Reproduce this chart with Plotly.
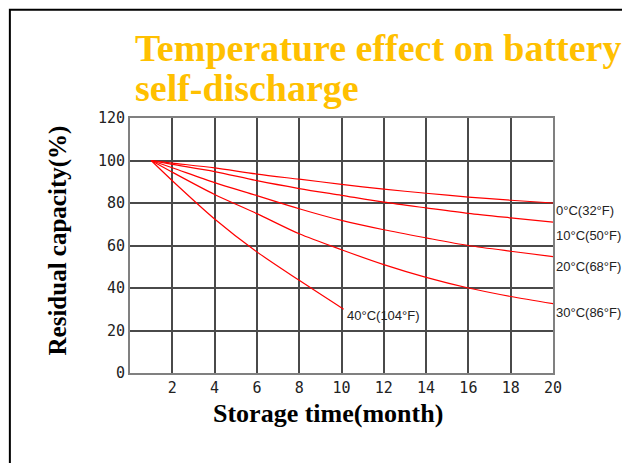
import plotly.graph_objects as go

# ---- data ----
months = [1, 2, 4, 6, 8, 10, 12, 14, 16, 18, 20]
cap_0c = [100, 98.8, 96.5, 93.6, 91.2, 88.8, 86.5, 84.6, 82.8, 81.3, 80]
cap_10c = [100, 98.2, 94.8, 90.5, 86.8, 83.6, 80.4, 77.7, 75.1, 73.0, 71.0]
cap_20c = [100, 96.6, 89.6, 83.5, 77.3, 71.8, 67.4, 63.6, 60.0, 57.3, 54.8]
cap_30c = [100, 94.5, 84.0, 75.0, 65.5, 58.0, 51.0, 45.0, 40.0, 36.0, 32.6]
months_40c = [1, 2, 4, 6, 8, 10.1]
cap_40c = [100, 90.5, 72.5, 57.0, 43.6, 30.0]

series_labels = ["0°C(32°F)", "10°C(50°F)", "20°C(68°F)", "30°C(86°F)", "40°C(104°F)"]
label_x = [20, 20, 20, 20, 10.1]
label_y = [76.6, 64.8, 50.2, 28.4, 27.2]

x_ticks = [2, 4, 6, 8, 10, 12, 14, 16, 18, 20]
y_ticks = [0, 20, 40, 60, 80, 100, 120]

title_line1 = "Temperature effect on battery"
title_line2 = "self-discharge"
x_title = "Storage time(month)"
y_title = "Residual capacity(%)"

RED = "#ff0000"
TICKFONT = dict(family="DejaVu Sans Mono, monospace", size=15, color="#222222")
LABELFONT = dict(family="Liberation Sans, Arial, sans-serif", size=13, color="#222222")
SERIF = "Liberation Serif, Times New Roman, serif"

fig = go.Figure()
for xs, ys in [(months, cap_0c), (months, cap_10c), (months, cap_20c),
               (months, cap_30c), (months_40c, cap_40c)]:
    fig.add_trace(go.Scatter(x=xs, y=ys, mode="lines",
                             line=dict(color=RED, width=1.2, shape="spline", smoothing=0.8),
                             showlegend=False, hoverinfo="skip"))

for txt, lx, ly in zip(series_labels, label_x, label_y):
    fig.add_annotation(x=lx, y=ly, xref="x", yref="y", text=txt, showarrow=False,
                       xanchor="left", yanchor="middle", xshift=1,
                       font=LABELFONT)

# titles
fig.add_annotation(x=0.007, y=1.276, xref="paper", yref="paper", text=title_line1,
                   showarrow=False, xanchor="left", yanchor="middle",
                   font=dict(family=SERIF, size=38, color="#ffc000", weight="bold"))
fig.add_annotation(x=0.007, y=1.116, xref="paper", yref="paper", text=title_line2,
                   showarrow=False, xanchor="left", yanchor="middle",
                   font=dict(family=SERIF, size=38, color="#ffc000", weight="bold"))
fig.add_annotation(x=0.468, y=-0.158, xref="paper", yref="paper", text=x_title,
                   showarrow=False, xanchor="center", yanchor="middle",
                   font=dict(family=SERIF, size=26, color="#000000", weight="bold"))
fig.add_annotation(x=-0.170, y=0.52, xref="paper", yref="paper", text=y_title,
                   showarrow=False, xanchor="center", yanchor="middle", textangle=-90,
                   font=dict(family=SERIF, size=25, color="#000000", weight="bold"))

# outer frame (left and top edges visible)
fig.add_shape(type="rect", xref="paper", yref="paper", x0=-0.284, x1=2.0, y0=-1.0, y1=1.425,
              line=dict(color="#000000", width=2), fillcolor="rgba(0,0,0,0)", layer="below")

fig.update_xaxes(range=[0, 20], tickvals=x_ticks, ticktext=[str(v) for v in x_ticks],
                 showgrid=True, gridcolor="#4a4a4a", gridwidth=1.5,
                 showline=True, linecolor="#808080", linewidth=2, mirror=True,
                 ticks="", tickfont=TICKFONT, zeroline=False, fixedrange=True)
fig.update_yaxes(range=[0, 120], tickvals=y_ticks, ticktext=[str(v) for v in y_ticks],
                 showgrid=True, gridcolor="#4a4a4a", gridwidth=1.5,
                 showline=True, linecolor="#808080", linewidth=2, mirror=True,
                 ticks="", tickfont=TICKFONT, zeroline=False, fixedrange=True)

fig.update_layout(width=622, height=455, margin=dict(l=122, r=77, t=110, b=90),
                  paper_bgcolor="white", plot_bgcolor="white", showlegend=False)

fig.write_html("out.html")
